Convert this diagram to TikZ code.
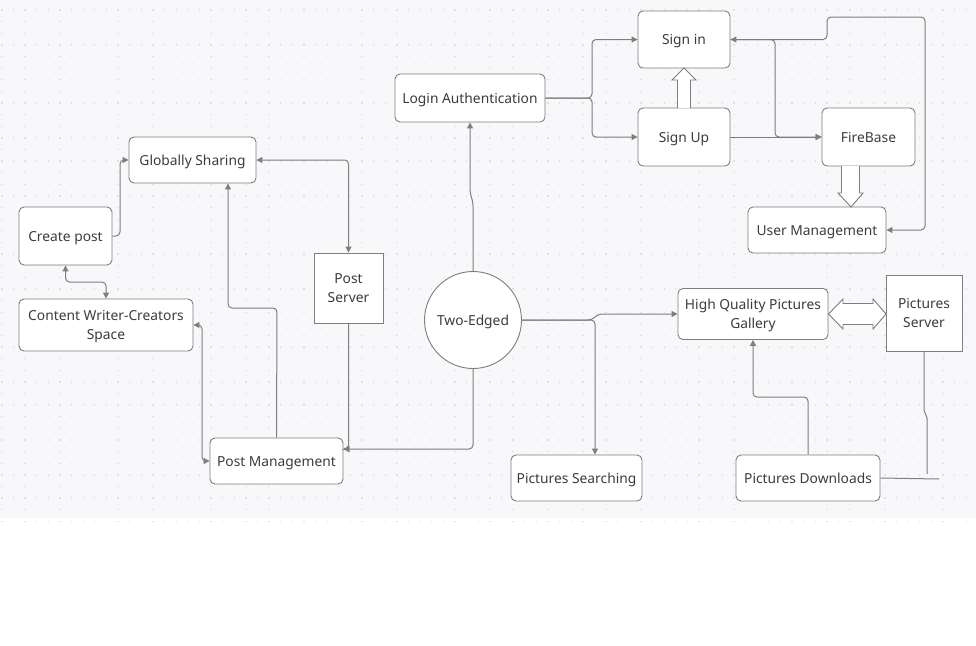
\documentclass[tikz,border=0pt]{standalone}
\usepackage{fontspec}
\setmainfont{Noto Sans}
\usetikzlibrary{arrows.meta}
\definecolor{bgc}{HTML}{F8F8FA}
\definecolor{dotc}{HTML}{E0E0E4}
\definecolor{linec}{HTML}{7E7E7E}
\definecolor{txtc}{HTML}{3C3C3C}
\tikzset{
  box/.style={draw=linec, line width=0.9pt, fill=white, rounded corners=5pt, align=center, text=txtc, font=\fontsize{13.8}{19}\selectfont, inner sep=0pt, text height=10pt, text depth=0pt},
  twoline/.style={text height=29pt, text depth=0pt},
  sqbox/.style={box, rounded corners=0pt},
  circbox/.style={draw=linec, line width=0.9pt, fill=white, circle, minimum size=97pt, text=txtc, font=\fontsize{13.8}{19}\selectfont, inner sep=0pt, text height=10pt, text depth=0pt},
  conn/.style={draw=linec, line width=1pt, rounded corners=4pt},
  tip/.style={-{Triangle[length=6pt,width=6pt]}},
  tips/.style={{Triangle[length=6pt,width=6pt]}-{Triangle[length=6pt,width=6pt]}},
  block/.style={draw=linec, line width=0.9pt, fill=white, line join=miter}
}
\begin{document}
\begin{tikzpicture}[x=1pt, y=-1pt]
\useasboundingbox (0,0) rectangle (976,645);
\fill[white] (0,0) rectangle (976,645);
\fill[bgc] (0,0) rectangle (976,518);
\foreach \i in {0,...,83} {
  \foreach \j in {0,...,44} {
    \fill[dotc] (1.2+\i*11.62, 9.4+\j*11.62) rectangle +(1.3,1.3);
  }
}
% nodes
\node[box, minimum width=92pt, minimum height=57pt] (signin) at (684,39.5) {Sign in};
\node[box, minimum width=92pt, minimum height=58pt] (signup) at (684,137) {Sign Up};
\node[box, minimum width=150pt, minimum height=48pt] (login) at (470,98) {Login Authentication};
\node[box, minimum width=93pt, minimum height=58pt] (firebase) at (868.5,137) {FireBase};
\node[box, minimum width=138pt, minimum height=46pt] (userm) at (817,230) {User Management};
\node[box, minimum width=127pt, minimum height=46pt] (gs) at (192.5,160) {Globally Sharing};
\node[box, minimum width=93pt, minimum height=58pt] (create) at (65.5,236) {Create post};
\node[box, twoline, minimum width=174pt, minimum height=52pt] (content) at (106,325) {Content Writer-Creators\\Space};
\node[sqbox, twoline, minimum width=69pt, minimum height=70pt] (postserver) at (348.5,288) {Post\\Server};
\node[box, minimum width=133pt, minimum height=46pt] (postm) at (276.5,461) {Post Management};
\node[circbox] (two) at (473,320) {Two-Edged};
\node[box, twoline, minimum width=150pt, minimum height=51pt] (hq) at (753,314) {High Quality Pictures\\Gallery};
\node[sqbox, twoline, minimum width=76pt, minimum height=76pt] (picserver) at (924,313) {Pictures\\Server};
\node[box, minimum width=131pt, minimum height=46pt] (psearch) at (576.5,478) {Pictures Searching};
\node[box, minimum width=144pt, minimum height=46pt] (pdown) at (808,478) {Pictures Downloads};
\coordinate (psend) at (927,474);
\coordinate (pdend) at (939,479);
% connectors
\draw[conn, tip] (login.east) -- (592,98) -- (592,39.5) -- (signin.west);
\draw[conn, tip] (login.east) -- (592,98) -- (592,137) -- (signup.west);
\draw[conn, tip] (signup.east) -- (firebase.west);
\draw[conn, tip] (signin.east) -- (775,39.5) -- (775,137) -- (firebase.west);
\draw[conn, tips] (userm.east) -- (925,230) -- (925,17) -- (827,17) -- (827,39.5) -- (signin.east);
\draw[conn, tip] (two.north) -- (473,202) -- (470,193) -- (login.south);
\draw[conn, tip] (two.south) -- (473,449) -- ([yshift=12pt]postm.east);
\draw[conn, tip] (postserver.south) -- (postserver.south |- 0,449) -- ([yshift=12pt]postm.east);
\draw[conn, tips] (gs.east) -| (postserver.north);
\draw[conn, tip] (postm.north) -- (277,308) -- (228,308) -- ([xshift=35.5pt]gs.south);
\draw[conn, tip] (create.east) -- (120,236) -- (120,160) -- (gs.west);
\draw[conn, tips] (create.south) -- (65.5,282) -- (106,282) -- (content.north);
\draw[conn, tips] (content.east) -- (202,325) -- (202,461) -- (postm.west);
\draw[conn, tip] (two.east) -- (592,320) -- (598,314) -- (hq.west);
\draw[conn, tip] (two.east) -- (595,320) -- ([xshift=18.5pt]psearch.north);
\draw[conn, tip] (pdown.north) -- (808,397) -- (753,397) -- (hq.south);
\draw[conn, rounded corners=0pt] (picserver.south) -- (924,410) -- (927,418) -- (psend);
\draw[conn] (pdown.east) -- (pdend);
% block arrows
\draw[block] (677.5,108) -- (677.5,80) -- (672,80) -- (684,68) -- (696,80) -- (690.5,80) -- (690.5,108);
\draw[block] (841.5,166) -- (841.5,193) -- (838,193) -- (851,207) -- (863,193) -- (859.5,193) -- (859.5,166);
\draw[block] (828.5,314) -- (843,299) -- (843,303.5) -- (873,303.5) -- (873,299) -- (886,314) -- (873,329) -- (873,324.5) -- (843,324.5) -- (843,329) -- cycle;
\end{tikzpicture}
\end{document}
